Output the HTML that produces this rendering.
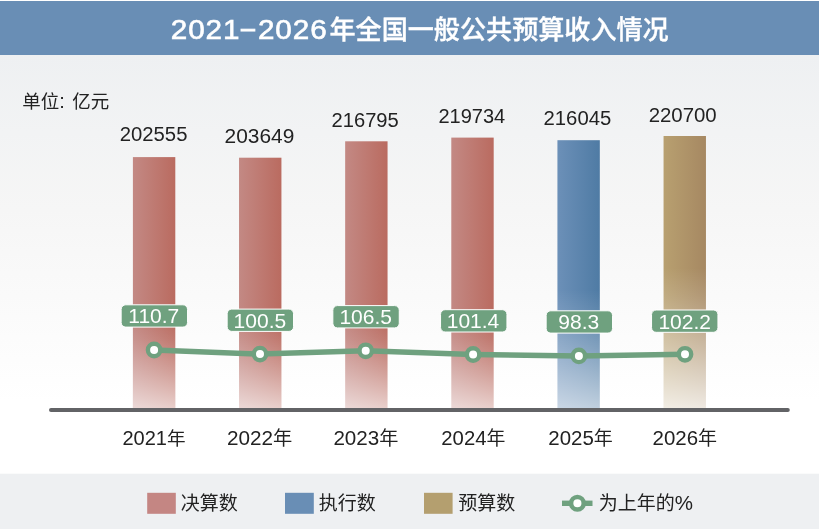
<!DOCTYPE html>
<html lang="zh">
<head>
<meta charset="utf-8">
<title>2021-2026年全国一般公共预算收入情况</title>
<style>
html,body{margin:0;padding:0;background:#fff;}
body{width:819px;height:529px;overflow:hidden;font-family:"Liberation Sans","Noto Sans CJK SC",sans-serif;}
svg{display:block;}
text{font-family:"Liberation Sans","Noto Sans CJK SC",sans-serif;}
.c{font-size:18.5px;}
</style>
</head>
<body>
<svg width="819" height="529" viewBox="0 0 819 529">
<defs>
<linearGradient id="bg" x1="0" y1="0" x2="0" y2="1">
<stop offset="0" stop-color="#eef0f2"/>
<stop offset="0.37" stop-color="#f6f6f6"/>
<stop offset="0.83" stop-color="#ffffff"/>
<stop offset="1" stop-color="#ffffff"/>
</linearGradient>
<linearGradient id="red" x1="0" y1="0" x2="1" y2="0">
<stop offset="0" stop-color="#c38984"/>
<stop offset="1" stop-color="#ba6b60"/>
</linearGradient>
<linearGradient id="blue" x1="0" y1="0" x2="1" y2="0">
<stop offset="0" stop-color="#6c90b8"/>
<stop offset="1" stop-color="#4f7ba4"/>
</linearGradient>
<linearGradient id="gold" x1="0" y1="0" x2="1" y2="0">
<stop offset="0" stop-color="#b8a070"/>
<stop offset="1" stop-color="#a68862"/>
</linearGradient>
<linearGradient id="fade" x1="0" y1="0" x2="0" y2="1">
<stop offset="0" stop-color="#fff" stop-opacity="0.000"/>
<stop offset="0.2" stop-color="#fff" stop-opacity="0.099"/>
<stop offset="0.4" stop-color="#fff" stop-opacity="0.226"/>
<stop offset="0.6" stop-color="#fff" stop-opacity="0.368"/>
<stop offset="0.8" stop-color="#fff" stop-opacity="0.520"/>
<stop offset="1" stop-color="#fff" stop-opacity="0.680"/>
</linearGradient>
<linearGradient id="fadeb" x1="0" y1="0" x2="0" y2="1">
<stop offset="0" stop-color="#fff" stop-opacity="0.000"/>
<stop offset="0.2" stop-color="#fff" stop-opacity="0.101"/>
<stop offset="0.4" stop-color="#fff" stop-opacity="0.223"/>
<stop offset="0.6" stop-color="#fff" stop-opacity="0.356"/>
<stop offset="0.8" stop-color="#fff" stop-opacity="0.495"/>
<stop offset="1" stop-color="#fff" stop-opacity="0.640"/>
</linearGradient>
<linearGradient id="fadeg" x1="0" y1="0" x2="0" y2="1">
<stop offset="0" stop-color="#fff" stop-opacity="0.000"/>
<stop offset="0.2" stop-color="#fff" stop-opacity="0.129"/>
<stop offset="0.4" stop-color="#fff" stop-opacity="0.286"/>
<stop offset="0.6" stop-color="#fff" stop-opacity="0.456"/>
<stop offset="0.8" stop-color="#fff" stop-opacity="0.634"/>
<stop offset="1" stop-color="#fff" stop-opacity="0.820"/>
</linearGradient>
</defs>
<rect x="0" y="0" width="819" height="529" fill="#fff"/>
<rect x="0" y="55" width="819" height="418" fill="url(#bg)"/>
<rect x="0" y="1" width="819" height="54" fill="#698eb5"/>
<g fill="#fff" stroke="#fff" stroke-width="0.6" font-size="28" letter-spacing="0.9">
<text transform="translate(170.7,39.3) scale(1.06,1)">2021</text>
<text transform="translate(257.9,39.3) scale(1.06,1)">2026</text>
</g>
<text x="248" y="36.8" font-size="25" text-anchor="middle" fill="#fff" stroke="#fff" stroke-width="0.8">–</text>
<text x="329.5" y="39.2" font-size="26.1" font-weight="500" fill="#fff" stroke="#fff" stroke-width="0.35">年全国一般公共预算收入情况</text>
<text x="22.2" y="107.7" font-size="18.5" fill="#222">单位<tspan font-size="20">: </tspan><tspan dx="1.8">亿元</tspan></text>

<g>
<rect x="132.9" y="157.1" width="42.4" height="251.9" fill="url(#red)"/>
<rect x="239.03" y="157.7" width="42.4" height="251.3" fill="url(#red)"/>
<rect x="345.16" y="141.3" width="42.4" height="267.7" fill="url(#red)"/>
<rect x="451.29" y="137.6" width="42.4" height="271.4" fill="url(#red)"/>
<rect x="557.42" y="140.2" width="42.4" height="268.8" fill="url(#blue)"/>
<rect x="663.55" y="136" width="42.4" height="273" fill="url(#gold)"/>
<rect x="132.4" y="322" width="43.4" height="87" fill="url(#fade)"/>
<rect x="238.53" y="322" width="43.4" height="87" fill="url(#fade)"/>
<rect x="344.66" y="322" width="43.4" height="87" fill="url(#fade)"/>
<rect x="450.79" y="322" width="43.4" height="87" fill="url(#fade)"/>
<rect x="556.92" y="290" width="43.4" height="119" fill="url(#fadeb)"/>
<rect x="663.05" y="268" width="43.4" height="141" fill="url(#fadeg)"/>
</g>
<rect x="49" y="407.9" width="740.8" height="4" rx="2" fill="#626366"/>
<g fill="#222" text-anchor="middle">
<text x="153.6" y="141.2" font-size="20.3">202555</text>
<text x="259.45" y="142.9" font-size="20.9">203649</text>
<text x="365.15" y="126.5" font-size="20.15">216795</text>
<text x="471.8" y="122.6" font-size="20">219734</text>
<text x="577.4" y="124.6" font-size="20.3">216045</text>
<text x="682.65" y="122.4" font-size="20.4">220700</text>
</g>
<polyline points="154.1,350 260,354.1 365.7,350.8 473.1,354.5 578.9,355.9 685,354.3" fill="none" stroke="#6fa17f" stroke-width="5.5" stroke-linejoin="round"/>
<g fill="#fff" stroke="#6fa17f" stroke-width="4.4">
<circle cx="154.1" cy="350" r="6.2"/>
<circle cx="260" cy="354.1" r="6.2"/>
<circle cx="365.7" cy="350.8" r="6.2"/>
<circle cx="473.1" cy="354.5" r="6.2"/>
<circle cx="578.9" cy="355.9" r="6.2"/>
<circle cx="685" cy="354.3" r="6.2"/>
</g>
<g fill="#6fa17f" stroke="#fff" stroke-width="1">
<rect x="121.15" y="304.8" width="66.4" height="22.3" rx="4.6"/>
<rect x="227.15" y="309.1" width="66.4" height="22.3" rx="4.6"/>
<rect x="332.85" y="305.6" width="66.4" height="22.3" rx="4.6"/>
<rect x="440.55" y="309.7" width="66.4" height="22.3" rx="4.6"/>
<rect x="546.15" y="310.8" width="66.4" height="22.3" rx="4.6"/>
<rect x="651.55" y="310" width="66.4" height="22.3" rx="4.6"/>
</g>
<g font-size="21" fill="#fff" text-anchor="middle">
<text x="153.8" y="322.8">110.7</text>
<text x="259.9" y="328">100.5</text>
<text x="365.7" y="324">106.5</text>
<text x="473" y="327.9">101.4</text>
<text x="578.8" y="329">98.3</text>
<text x="684.7" y="329.1">102.2</text>
</g>
<g fill="#222" text-anchor="middle">
<text x="154.05" y="444.6" font-size="20">2021<tspan font-size="18.6">年</tspan></text>
<text x="259.55" y="444.6" font-size="20.7">2022<tspan font-size="19.251">年</tspan></text>
<text x="365.9" y="444.6" font-size="20.6">2023<tspan font-size="19.158">年</tspan></text>
<text x="473.35" y="444.6" font-size="20.3">2024<tspan font-size="18.879">年</tspan></text>
<text x="580.55" y="444.6" font-size="20.44">2025<tspan font-size="19.0092">年</tspan></text>
<text x="684.8" y="444.6" font-size="20.46">2026<tspan font-size="19.0278">年</tspan></text>
</g>
<rect x="0" y="473.7" width="819" height="56" fill="#eef0f2"/>
<rect x="147.2" y="492.8" width="28.6" height="21" fill="#c48683"/>
<rect x="285" y="492.8" width="28.8" height="21" fill="#698eb5"/>
<rect x="424" y="492.8" width="28.6" height="21" fill="#b49f6f"/>
<g font-size="19" fill="#222">
<text x="180.8" y="510.3">决算数</text>
<text x="318.8" y="510.3">执行数</text>
<text x="458.3" y="510.3">预算数</text>
<text x="598.8" y="510.3">为上年的<tspan font-size="20.5">%</tspan></text>
</g>
<line x1="562" y1="503.3" x2="592.5" y2="503.3" stroke="#6fa17f" stroke-width="5.4"/>
<circle cx="577.4" cy="503.3" r="6.3" fill="#fff" stroke="#6fa17f" stroke-width="4.5"/>
</svg>
</body>
</html>
